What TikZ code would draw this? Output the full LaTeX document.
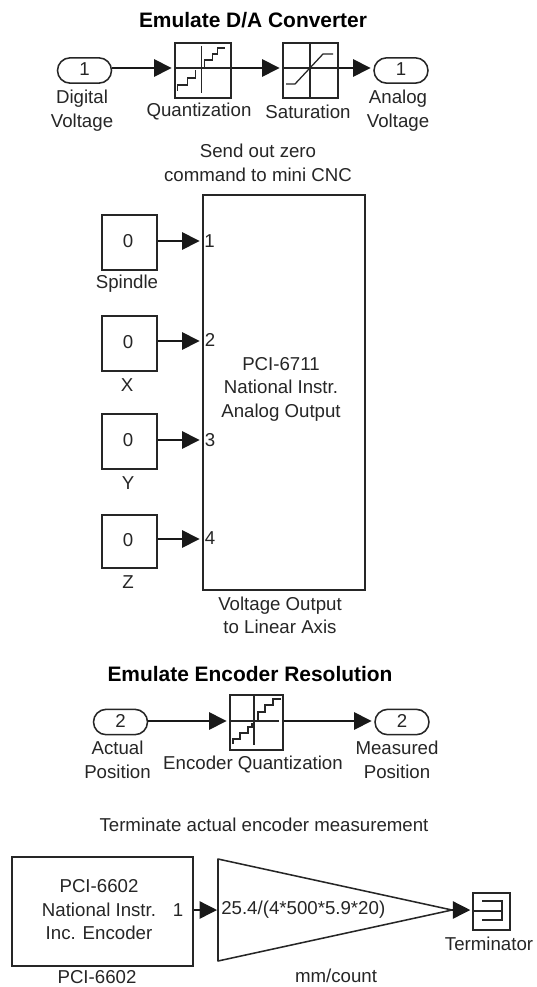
\documentclass[tikz,border=0pt]{standalone}
\usepackage{fontspec}
\setmainfont{Liberation Sans}
\usetikzlibrary{arrows.meta,shapes.misc}
\tikzset{
 x=0.75pt,y=-0.75pt,
 blk/.style={draw=black!85,line width=1.15pt,anchor=center,inner sep=0},
 lab/.style={font=\fontsize{14}{17.6}\selectfont,align=center,text=black!85,inner sep=0},
 ttl/.style={font=\bfseries\fontsize{15.7}{18}\selectfont,text=black,inner sep=0},
 wire/.style={draw=black!90,line width=1pt,-{Triangle[length=13pt,width=13pt]},shorten >=2pt},
 port/.style={draw=black!85,line width=1.15pt,rounded rectangle,inner sep=0,font=\fontsize{14}{16}\selectfont,text=black!85},
 thinline/.style={draw=black!85,line width=0.95pt},
}
\newcommand{\boxat}[5]{\node[blk,minimum width=#3*0.75pt,minimum height=#4*0.75pt,font=\fontsize{14}{17.6}\selectfont,text=black!85,align=center] (#1) at (#2) {#5};}
\newcommand{\portat}[3]{\node[port,minimum width=40.5pt,minimum height=19pt] (#1) at (#2) {\raisebox{1.6pt}{#3}};}
\begin{document}
\begin{tikzpicture}
\useasboundingbox (0,0) rectangle (536,987);
\fill[white] (0,0) rectangle (536,987);
% top
\node[ttl] (t1) at (253,20) {Emulate D/A Converter};
\coordinate (w1) at (0,68);
\portat{in1}{84.5,70.5}{1}
\boxat{q1}{203,70.5}{56}{55}{}
\boxat{s1}{310.5,70.5}{55}{55}{}
\portat{out1}{401,70.5}{1}
\begin{scope}[shift={(201.7,68)}]
 \draw[thinline] (-27,0)--(32,0) (0,-22)--(0,25);
 \draw[thinline] (-24,23)--(-24,17)--(-14,17)--(-14,10)--(-6,10)--(-6,2);
 \draw[thinline] (3,0)--(3,-8)--(11,-8)--(11,-14)--(16,-14)--(16,-20)--(23,-20);
\end{scope}
\begin{scope}[shift={(310,68)}]
 \draw[thinline] (-27,0)--(28,0) (0,-25)--(0,30);
 \draw[thinline] (-24,16)--(-15,16)--(13,-14)--(23,-14);
\end{scope}
\draw[wire] (in1.east|-w1) -- (q1.west|-w1);
\draw[wire] (q1.east|-w1) -- (s1.west|-w1);
\draw[wire] (s1.east|-w1) -- (out1.west|-w1);
\node[lab] (l1) at (82,110.5) {Digital\\Voltage};
\node[lab] (l2) at (199,112) {Quantization};
\node[lab] (l3) at (308,112) {Saturation};
\node[lab] (l4) at (398,110.5) {Analog\\Voltage};
\node[lab] (l5) at (258,163) {Send out zero\\command to mini CNC};
% middle
\boxat{k1}{129.5,242.5}{55}{55}{\raisebox{1.6pt}{0}\hspace{2pt}}
\boxat{k2}{129.5,343.5}{55}{55}{\raisebox{1.6pt}{0}\hspace{2pt}}
\boxat{k3}{129.5,441.5}{55}{55}{\raisebox{1.6pt}{0}\hspace{2pt}}
\boxat{k4}{129.5,541.5}{55}{53}{\raisebox{1.6pt}{0}\hspace{2pt}}
\node[lab] (n1) at (127,284) {Spindle};
\node[lab] (n2) at (127,385) {X};
\node[lab] (n3) at (128,483) {Y};
\node[lab] (n4) at (128,582) {Z};
\boxat{pci}{284,392.5}{162}{395}{}
\node[lab] (pcit) at (281,389) {PCI-6711\\National Instr.\\Analog Output};
\coordinate (w2) at (0,241);
\coordinate (w3) at (0,341);
\coordinate (w4) at (0,440);
\coordinate (w5) at (0,539);
\draw[wire] (k1.east|-w2) -- (pci.west|-w2);
\draw[wire] (k2.east|-w3) -- (pci.west|-w3);
\draw[wire] (k3.east|-w4) -- (pci.west|-w4);
\draw[wire] (k4.east|-w5) -- (pci.west|-w5);
\node[lab] (i1) at (209.5,241) {1};
\node[lab] (i2) at (210,340) {2};
\node[lab] (i3) at (210,440) {3};
\node[lab] (i4) at (210,538) {4};
\node[lab] (l6) at (280,615.5) {Voltage Output\\to Linear Axis};
% encoder
\node[ttl] (t2) at (250,674) {Emulate Encoder Resolution};
\coordinate (w6) at (0,721);
\portat{in2}{120.5,722}{2}
\boxat{q2}{256.5,722.5}{53}{55}{}
\begin{scope}[shift={(254,721)}]
 \draw[thinline] (-24,0)--(25,0) (0,-26)--(0,24);
 \draw[thinline] (-21,23)--(-21,18)--(-14,18)--(-14,12)--(-6,12)--(-6,6)--(-2,6)--(-2,2);
 \draw[thinline] (4,0)--(4,-9)--(11,-9)--(11,-16)--(19,-16)--(19,-22)--(27,-22);
\end{scope}
\portat{out2}{402,722}{2}
\draw[wire] (in2.east|-w6) -- (q2.west|-w6);
\draw[wire] (q2.east|-w6) -- (out2.west|-w6);
\node[lab] (l7) at (117.5,760) {Actual\\Position};
\node[lab] (l8) at (253,764) {Encoder Quantization};
\node[lab] (l9) at (397,760) {Measured\\Position};
\node[lab] (l10) at (264,825) {Terminate actual encoder measurement};
% bottom
\boxat{enc}{102.5,911.5}{181}{109}{}
\node[lab] (enct) at (99,910) {PCI-6602\\National Instr.\\Inc. Encoder};
\node[lab] (one) at (178,910) {1};
\node[lab] (l11) at (97,977.5) {PCI-6602};
\coordinate (g) at (218,910);
\coordinate (gt) at (218,859);
\coordinate (gb) at (218,961);
\coordinate (ga) at (452,910);
\draw[blk,line join=round] (gt)--(ga)--(gb)--cycle;
\node[lab,anchor=west] (gl) at (221,910) {25.4/(4*500*5.9*20)};
\boxat{term}{491.5,911.5}{37}{37}{}
\begin{scope}[shift={(473,911)}]
 \draw[thinline] (0,0)--(29,0) (9,-10)--(29,-10)--(29,9)--(9,9);
\end{scope}
\draw[wire,shorten >=0.75pt] (enc.east|-g) -- (g);
\draw[wire,shorten >=1.5pt] (ga) -- (term.west|-ga);
\node[lab] (l12) at (489,944) {Terminator};
\node[lab] (l14) at (336,976) {mm/count};
\end{tikzpicture}
\end{document}
